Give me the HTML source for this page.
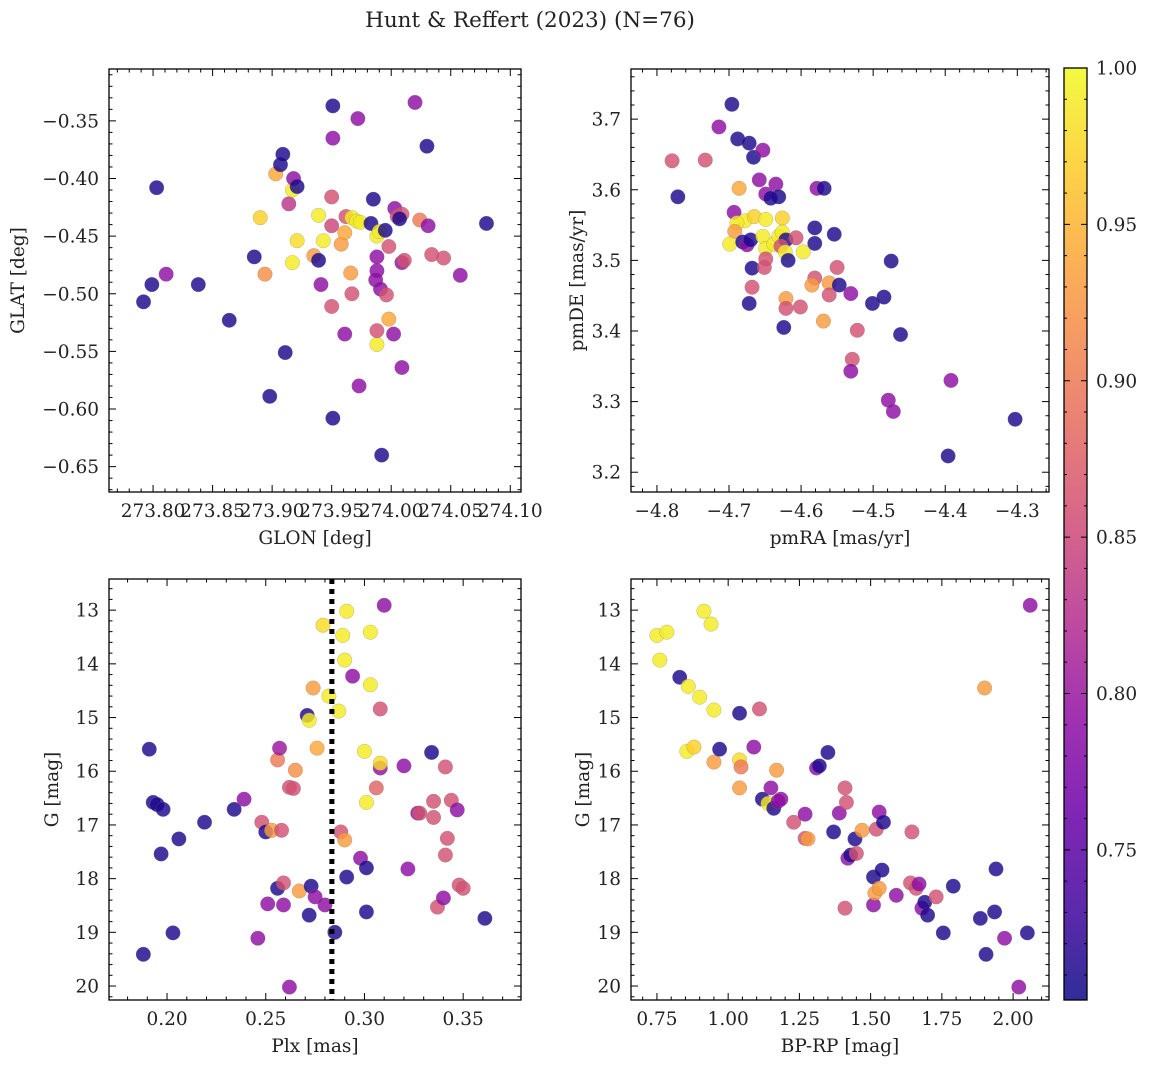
<!DOCTYPE html>
<html><head><meta charset="utf-8"><style>
body{margin:0;background:#fff;}
svg text{font-family:"DejaVu Serif","Liberation Serif",serif;fill:#222;}
</style></head><body>
<svg id="fig" width="1149" height="1068" viewBox="0 0 1149 1068" xmlns="http://www.w3.org/2000/svg">
<defs><linearGradient id="plasma" x1="0" y1="1" x2="0" y2="0"></linearGradient></defs>
<text x="530" y="27" font-size="21.5" text-anchor="middle">Hunt &amp; Reffert (2023) (N=76)</text>
</svg>
<script>
// ---- data (dark≈0.71, purple≈0.79, pink≈0.86, orange≈0.93, yellow≈0.99) ----
const glonVals=[273.792,273.799,273.803,273.811,273.838,273.864,273.885,273.890,273.894,273.911,273.898,273.903,273.907,273.909,273.914,273.917,273.918,273.921,273.917,273.921,273.935,273.939,273.939,273.941,273.943,273.950,273.950,273.951,273.951,273.950,273.951,273.958,273.961,273.962,273.961,273.966,273.967,273.967,273.971,273.972,273.973,273.974,273.983,273.985,273.988,273.988,273.988,273.987,273.988,273.988,273.990,273.991,273.992,273.995,273.996,273.998,273.998,274.002,274.003,274.005,274.009,274.007,274.009,274.009,274.011,274.020,274.024,274.030,274.031,274.034,274.044,274.058,274.080];
const glatVals=[-0.507,-0.492,-0.408,-0.483,-0.492,-0.523,-0.468,-0.434,-0.483,-0.551,-0.589,-0.396,-0.388,-0.379,-0.422,-0.410,-0.400,-0.407,-0.473,-0.454,-0.467,-0.432,-0.471,-0.492,-0.454,-0.416,-0.441,-0.337,-0.365,-0.511,-0.608,-0.457,-0.535,-0.433,-0.447,-0.482,-0.434,-0.500,-0.437,-0.348,-0.580,-0.438,-0.439,-0.418,-0.450,-0.544,-0.480,-0.488,-0.468,-0.532,-0.446,-0.496,-0.640,-0.445,-0.501,-0.522,-0.459,-0.535,-0.426,-0.433,-0.431,-0.435,-0.564,-0.473,-0.471,-0.334,-0.436,-0.372,-0.441,-0.466,-0.469,-0.484,-0.439];
const glProb=[0.71,0.71,0.71,0.79,0.71,0.71,0.71,0.97,0.92,0.71,0.71,0.94,0.71,0.71,0.83,0.99,0.79,0.71,0.99,0.98,0.93,0.99,0.71,0.79,0.99,0.86,0.85,0.71,0.79,0.86,0.71,0.93,0.79,0.86,0.94,0.93,0.99,0.86,0.99,0.79,0.79,0.99,0.71,0.71,0.99,0.99,0.79,0.79,0.79,0.86,0.99,0.79,0.71,0.71,0.86,0.94,0.86,0.79,0.79,0.86,0.86,0.71,0.79,0.79,0.86,0.79,0.90,0.71,0.79,0.86,0.86,0.79,0.71];

const pmraVals=[-4.696,-4.714,-4.779,-4.733,-4.771,-4.688,-4.672,-4.666,-4.653,-4.686,-4.658,-4.649,-4.635,-4.631,-4.642,-4.693,-4.678,-4.689,-4.665,-4.649,-4.626,-4.692,-4.699,-4.681,-4.675,-4.670,-4.653,-4.649,-4.638,-4.631,-4.626,-4.621,-4.628,-4.622,-4.597,-4.668,-4.649,-4.651,-4.618,-4.668,-4.672,-4.621,-4.621,-4.601,-4.607,-4.624,-4.581,-4.581,-4.578,-4.568,-4.581,-4.585,-4.561,-4.561,-4.554,-4.550,-4.547,-4.531,-4.569,-4.522,-4.529,-4.531,-4.501,-4.485,-4.475,-4.462,-4.479,-4.472,-4.392,-4.396,-4.303];
const pmdeVals=[3.721,3.689,3.641,3.642,3.590,3.672,3.666,3.646,3.656,3.602,3.614,3.594,3.608,3.590,3.588,3.568,3.556,3.553,3.562,3.558,3.560,3.541,3.523,3.526,3.522,3.529,3.534,3.517,3.523,3.534,3.540,3.529,3.520,3.512,3.512,3.489,3.502,3.490,3.500,3.462,3.439,3.446,3.432,3.434,3.532,3.405,3.546,3.524,3.602,3.602,3.475,3.465,3.468,3.451,3.537,3.490,3.465,3.453,3.414,3.401,3.360,3.343,3.439,3.448,3.499,3.395,3.302,3.286,3.330,3.223,3.275];
const pmProb=[0.71,0.79,0.86,0.86,0.71,0.71,0.71,0.71,0.79,0.94,0.79,0.79,0.79,0.71,0.71,0.79,0.99,0.99,0.97,0.99,0.97,0.93,0.99,0.71,0.79,0.71,0.99,0.99,0.99,0.99,0.99,0.71,0.86,0.99,0.99,0.71,0.86,0.86,0.71,0.86,0.71,0.93,0.86,0.86,0.86,0.71,0.71,0.71,0.79,0.71,0.86,0.93,0.93,0.86,0.71,0.86,0.71,0.79,0.93,0.86,0.86,0.79,0.71,0.71,0.71,0.71,0.79,0.79,0.79,0.71,0.71];

const plxVals=[0.188,0.191,0.193,0.195,0.198,0.197,0.203,0.206,0.219,0.234,0.239,0.246,0.248,0.250,0.251,0.253,0.256,0.256,0.257,0.258,0.259,0.259,0.262,0.264,0.265,0.267,0.271,0.272,0.272,0.273,0.274,0.275,0.276,0.279,0.280,0.282,0.285,0.287,0.288,0.290,0.291,0.289,0.290,0.291,0.294,0.298,0.300,0.301,0.301,0.301,0.303,0.303,0.306,0.308,0.308,0.308,0.310,0.320,0.322,0.327,0.328,0.334,0.335,0.335,0.337,0.340,0.341,0.341,0.342,0.344,0.347,0.348,0.350,0.361,0.262];
const gPlx=[19.41,15.59,16.58,16.62,16.71,17.54,19.01,17.26,16.95,16.71,16.52,19.11,16.95,17.13,18.47,17.10,15.79,18.18,15.57,17.10,18.08,18.49,16.30,16.32,15.98,18.23,14.96,15.05,18.68,18.14,14.45,18.34,15.57,13.28,18.49,14.60,19.00,14.88,17.13,17.28,13.02,13.47,13.93,17.97,14.23,17.62,15.63,16.58,17.80,18.62,13.41,14.39,16.31,15.94,15.85,14.84,12.91,15.90,17.82,16.78,16.78,15.65,16.86,16.56,18.53,18.36,15.92,17.56,17.25,16.54,16.72,18.12,18.18,18.74,20.02];
const plxProb=[0.71,0.71,0.71,0.71,0.71,0.71,0.71,0.71,0.71,0.71,0.79,0.79,0.86,0.71,0.79,0.93,0.90,0.71,0.80,0.86,0.86,0.79,0.86,0.86,0.92,0.93,0.71,0.99,0.71,0.71,0.93,0.79,0.94,0.98,0.79,0.99,0.71,0.99,0.86,0.93,0.99,0.99,0.99,0.71,0.79,0.79,0.99,0.99,0.71,0.71,0.99,0.99,0.88,0.79,0.98,0.86,0.79,0.79,0.79,0.79,0.86,0.71,0.86,0.86,0.86,0.79,0.86,0.86,0.86,0.86,0.79,0.86,0.86,0.71,0.79];
const plxLine=[0.2835];

const bprpVals=[0.75,0.785,0.76,0.83,0.86,0.90,0.95,0.855,0.88,0.915,0.94,1.04,0.95,0.97,1.04,1.04,1.045,1.09,1.11,1.12,1.14,1.15,1.16,1.17,1.175,1.185,1.23,1.27,1.28,1.27,1.31,1.32,1.35,1.37,1.39,1.41,1.415,1.42,1.43,1.445,1.45,1.41,1.47,1.51,1.51,1.515,1.52,1.53,1.53,1.54,1.545,1.59,1.64,1.645,1.66,1.67,1.68,1.69,1.70,1.73,1.755,1.79,1.885,1.90,1.905,1.935,1.94,1.97,2.02,2.05,2.06];
const gCmd=[13.47,13.41,13.93,14.25,14.42,14.62,14.86,15.63,15.55,13.02,13.26,14.92,15.83,15.59,16.31,15.79,15.92,15.55,14.84,16.52,16.60,16.31,16.69,15.98,16.56,16.52,16.95,17.25,17.26,16.80,15.94,15.90,15.65,17.13,16.78,16.31,16.58,17.62,17.56,17.26,17.53,18.55,17.10,17.97,18.49,18.27,17.08,18.18,16.76,17.84,16.95,18.31,18.08,17.13,18.18,18.10,18.55,18.44,18.68,18.34,19.01,18.14,18.74,14.45,19.41,18.62,17.82,19.11,20.02,19.01,12.91];
const cmdProb=[0.99,0.99,0.99,0.71,0.99,0.99,0.99,0.99,0.97,0.99,0.99,0.71,0.93,0.71,0.93,0.98,0.90,0.79,0.86,0.71,0.99,0.79,0.71,0.93,0.79,0.79,0.86,0.86,0.93,0.79,0.79,0.71,0.71,0.71,0.79,0.86,0.86,0.79,0.71,0.71,0.86,0.86,0.93,0.71,0.79,0.93,0.86,0.93,0.79,0.71,0.71,0.79,0.86,0.86,0.86,0.79,0.79,0.71,0.71,0.86,0.71,0.71,0.71,0.93,0.71,0.71,0.71,0.79,0.79,0.71,0.79];

const cbTicks=[0.75,0.80,0.85,0.90,0.95,1.00];
const cmin=0.702,cmax=1.0;

// ---- rendering ----
const NS="http://www.w3.org/2000/svg";
const svg=document.getElementById('fig');
const stops=["#0d0887","#41049d","#6a00a8","#8f0da4","#b12a90","#cc4778","#e16462","#f2844b","#fca636","#fcce25","#f0f921"];
function hex(h){return[parseInt(h.substr(1,2),16),parseInt(h.substr(3,2),16),parseInt(h.substr(5,2),16)];}
function plasma(t){t=Math.max(0,Math.min(1,t));const f=t*10,i=Math.min(9,Math.floor(f)),u=f-i;const a=hex(stops[i]),b=hex(stops[i+1]);return 'rgb('+a.map((v,k)=>Math.round(v+(b[k]-v)*u)).join(',')+')';}
function mk(tag,attrs,parent){const e=document.createElementNS(NS,tag);for(const k in attrs)e.setAttribute(k,attrs[k]);(parent||svg).appendChild(e);return e;}
function fmt(v,d){return (v<0?'\u2212':'')+Math.abs(v).toFixed(d);}
const FS=18.5;

function panel(name,box,xr,yr,xMaj,xMin,yMaj,yMin,xd,yd,xlab,ylab,xs,ys,cs,ytx){
  const [L,T,R,B]=box;
  const sx=v=>L+(v-xr[0])/(xr[1]-xr[0])*(R-L);
  const sy=v=>T+(v-yr[0])/(yr[1]-yr[0])*(B-T);
  const g=mk('g',{});
  
  
  const pts=mk('g',{},g);
  for(let i=0;i<xs.length;i++){
    const c=mk('circle',{cx:sx(xs[i]),cy:sy(ys[i]),r:7.3,fill:plasma((cs[i]-cmin)/(cmax-cmin)),'fill-opacity':0.82,stroke:'#777','stroke-width':0.4,'stroke-opacity':0.6},pts);
    
    
  }
  mk('rect',{x:L,y:T,width:R-L,height:B-T,fill:'none',stroke:'#000','stroke-width':1.3},g);
  const lo=Math.min(xr[0],xr[1]),hi=Math.max(xr[0],xr[1]);
  for(let v=Math.ceil(lo/xMin-1e-6)*xMin;v<=hi+1e-9;v+=xMin){
    const isMaj=Math.abs(v/xMaj-Math.round(v/xMaj))<1e-4;const len=isMaj?7:3.5;const x=sx(v);
    mk('line',{x1:x,x2:x,y1:B,y2:B-len,stroke:'#000','stroke-width':1},g);
    mk('line',{x1:x,x2:x,y1:T,y2:T+len,stroke:'#000','stroke-width':1},g);
    if(isMaj){const t=mk('text',{x:x,y:B+25,'font-size':FS,'text-anchor':'middle'},g);t.textContent=fmt(Math.round(v/xMaj)*xMaj,xd);
      }
  }
  const ylo=Math.min(yr[0],yr[1]),yhi=Math.max(yr[0],yr[1]);
  for(let v=Math.ceil(ylo/yMin-1e-6)*yMin;v<=yhi+1e-9;v+=yMin){
    const isMaj=Math.abs(v/yMaj-Math.round(v/yMaj))<1e-4;const len=isMaj?7:3.5;const y=sy(v);
    mk('line',{x1:L,x2:L+len,y1:y,y2:y,stroke:'#000','stroke-width':1},g);
    mk('line',{x1:R,x2:R-len,y1:y,y2:y,stroke:'#000','stroke-width':1},g);
    if(isMaj){const t=mk('text',{x:L-10,y:y+6.5,'font-size':FS,'text-anchor':'end'},g);t.textContent=fmt(Math.round(v/yMaj)*yMaj,yd);
      }
  }
  const xl=mk('text',{x:(L+R)/2,y:B+52,'font-size':FS,'text-anchor':'middle'},g);xl.textContent=xlab;
  
  const yl=mk('text',{x:0,y:0,'font-size':FS,'text-anchor':'middle',transform:'translate('+(ytx+6)+','+((T+B)/2)+') rotate(-90)'},g);yl.textContent=ylab;
  
  return {sx,sy,g};
}

panel('glon-glat',[109,69,521,492],[273.763,274.109],[-0.305,-0.672],0.05,0.01,0.05,0.01,2,2,'GLON [deg]','GLAT [deg]',glonVals,glatVals,glProb,18);
panel('pm',[631,69,1049,492],[-4.836,-4.256],[3.771,3.172],0.1,0.02,0.1,0.02,1,1,'pmRA [mas/yr]','pmDE [mas/yr]',pmraVals,pmdeVals,pmProb,577);
const p3=panel('plx',[109,579,521,1000],[0.1706,0.3793],[12.42,20.26],0.05,0.01,1,0.2,2,0,'Plx [mas]','G [mag]',plxVals,gPlx,plxProb,52);
panel('cmd',[631,579,1049,1000],[0.659,2.126],[12.42,20.26],0.25,0.05,1,0.2,2,0,'BP-RP [mag]','G [mag]',bprpVals,gCmd,cmdProb,583);
const vl=mk('line',{x1:p3.sx(plxLine[0]),x2:p3.sx(plxLine[0]),y1:579,y2:1000,stroke:'#000','stroke-width':5,'stroke-dasharray':'5,5'},p3.g);



// colorbar
const grad=document.getElementById('plasma');
stops.forEach((c,i)=>mk('stop',{offset:(i*10)+'%','stop-color':c},grad));
const cb=mk('g',{});


const cT=68,cB=1000,cL=1064,cR=1087;
mk('rect',{x:cL,y:cT,width:cR-cL,height:cB-cT,fill:'url(#plasma)','fill-opacity':0.85,stroke:'#000','stroke-width':1.3},cb);
const cy=v=>cB-(v-cmin)/(cmax-cmin)*(cB-cT);
for(let v=0.71;v<=1.0001;v+=0.01){const y=cy(v);const maj=Math.abs(v*20-Math.round(v*20))<1e-4;
  mk('line',{x1:cR,x2:cR-(maj?6:3),y1:y,y2:y,stroke:'#000','stroke-width':1},cb);
  mk('line',{x1:cL,x2:cL+(maj?6:3),y1:y,y2:y,stroke:'#000','stroke-width':1},cb);}
cbTicks.forEach(v=>{const t=mk('text',{x:cR+9,y:cy(v)+6.5,'font-size':FS},cb);t.textContent=v.toFixed(2);
  
  });
</script>
</body></html>
